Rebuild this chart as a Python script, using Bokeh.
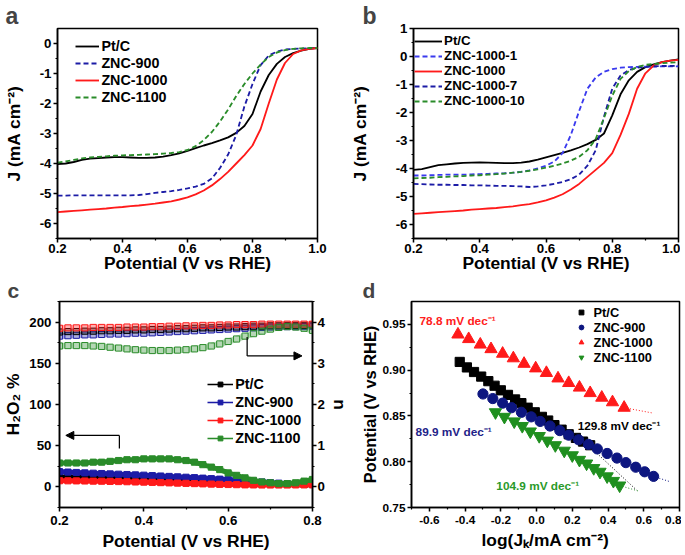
from bokeh.plotting import figure
from bokeh.layouts import column, row
from bokeh.models import (FixedTicker, PrintfTickFormatter, Range1d, LinearAxis,
                          Legend, LegendItem, Label, Arrow, NormalHead, Title)
from bokeh.embed import file_html
from bokeh.resources import INLINE

FONT = "Liberation Sans"
S = 1.0225  # scale for fonts / marks


def px(v):
    return int(round(S * v))


def fs(v):
    return "%.1fpx" % (S * v)


# ---------------- data: panels a & b (LSV) ----------------
potential_ab = [0.200, 0.225, 0.250, 0.275, 0.300, 0.325, 0.350, 0.375, 0.400, 0.425, 0.450,
                0.475, 0.500, 0.525, 0.550, 0.575, 0.600, 0.625, 0.650, 0.675, 0.700, 0.725,
                0.750, 0.775, 0.800, 0.825, 0.850, 0.875, 0.900, 0.925, 0.950, 0.975, 1.000]

a_ptc = [-4.02, -4.00, -3.95, -3.88, -3.84, -3.82, -3.80, -3.79, -3.79, -3.80, -3.81, -3.81,
         -3.80, -3.77, -3.72, -3.66, -3.58, -3.49, -3.40, -3.32, -3.23, -3.13, -2.98, -2.75,
         -2.35, -1.60, -1.05, -0.68, -0.45, -0.32, -0.24, -0.18, -0.15]
a_znc900 = [-5.07, -5.07, -5.06, -5.06, -5.06, -5.06, -5.06, -5.06, -5.06, -5.06, -5.05, -5.02,
            -4.98, -4.95, -4.92, -4.88, -4.83, -4.77, -4.68, -4.50, -4.15, -3.70, -3.05, -2.10,
            -1.35, -0.72, -0.40, -0.27, -0.20, -0.18, -0.17, -0.16, -0.15]
a_znc1000 = [-5.62, -5.60, -5.58, -5.56, -5.54, -5.52, -5.50, -5.47, -5.45, -5.42, -5.40, -5.37,
             -5.34, -5.30, -5.26, -5.20, -5.13, -5.03, -4.90, -4.73, -4.52, -4.28, -4.00, -3.72,
             -3.40, -2.85, -2.00, -1.20, -0.65, -0.35, -0.23, -0.18, -0.15]
a_znc1100 = [-3.97, -3.93, -3.88, -3.83, -3.80, -3.78, -3.76, -3.74, -3.73, -3.72, -3.71, -3.70,
             -3.69, -3.67, -3.65, -3.62, -3.55, -3.42, -3.22, -2.95, -2.60, -2.20, -1.75, -1.35,
             -1.00, -0.70, -0.45, -0.30, -0.22, -0.18, -0.16, -0.15, -0.15]

b_ptc = [-4.05, -4.02, -3.95, -3.88, -3.85, -3.82, -3.80, -3.79, -3.78, -3.79, -3.80, -3.81,
         -3.81, -3.79, -3.75, -3.68, -3.60, -3.52, -3.44, -3.35, -3.25, -3.13, -2.98, -2.75,
         -2.10, -1.35, -0.85, -0.55, -0.38, -0.28, -0.20, -0.15, -0.10]
b_znc1000_1 = [-4.25, -4.25, -4.24, -4.23, -4.22, -4.22, -4.22, -4.21, -4.20, -4.19, -4.18, -4.17,
               -4.15, -4.12, -4.07, -4.00, -3.90, -3.75, -3.45, -2.80, -1.95, -1.15, -0.75, -0.55,
               -0.45, -0.40, -0.38, -0.37, -0.36, -0.36, -0.35, -0.35, -0.35]
b_znc1000 = [-5.62, -5.60, -5.58, -5.56, -5.54, -5.52, -5.50, -5.47, -5.45, -5.43, -5.41, -5.38,
             -5.35, -5.31, -5.27, -5.21, -5.14, -5.04, -4.92, -4.75, -4.55, -4.30, -4.05, -3.80,
             -3.45, -2.80, -2.05, -1.15, -0.60, -0.32, -0.20, -0.15, -0.12]
b_znc1000_7 = [-4.55, -4.56, -4.57, -4.58, -4.58, -4.59, -4.59, -4.60, -4.60, -4.61, -4.62, -4.62,
               -4.63, -4.64, -4.66, -4.64, -4.60, -4.55, -4.48, -4.38, -4.22, -3.90, -3.35, -2.15,
               -1.15, -0.68, -0.48, -0.40, -0.37, -0.35, -0.34, -0.34, -0.33]
b_znc1000_10 = [-4.35, -4.34, -4.33, -4.31, -4.30, -4.28, -4.27, -4.25, -4.24, -4.22, -4.20, -4.18,
                -4.15, -4.12, -4.08, -4.03, -3.97, -3.90, -3.82, -3.72, -3.58, -3.35, -2.95, -2.20,
                -1.40, -0.80, -0.52, -0.38, -0.30, -0.27, -0.24, -0.22, -0.20]

# ---------------- data: panel c (RRDE) ----------------
potential_c = [0.20, 0.22, 0.24, 0.26, 0.28, 0.30, 0.32, 0.34, 0.36, 0.38, 0.40, 0.42, 0.44, 0.46,
               0.48, 0.50, 0.52, 0.54, 0.56, 0.58, 0.60, 0.62, 0.64, 0.66, 0.68, 0.70, 0.72, 0.74,
               0.76, 0.78, 0.80]
n_ptc = [3.76, 3.77, 3.77, 3.78, 3.78, 3.79, 3.79, 3.80, 3.80, 3.81, 3.81, 3.82, 3.82, 3.83, 3.84,
         3.84, 3.85, 3.86, 3.86, 3.87, 3.88, 3.88, 3.89, 3.90, 3.90, 3.91, 3.91, 3.92, 3.92, 3.92, 3.93]
n_znc900 = [3.66, 3.67, 3.68, 3.69, 3.69, 3.70, 3.71, 3.71, 3.72, 3.73, 3.73, 3.74, 3.75, 3.76, 3.77,
            3.78, 3.79, 3.80, 3.81, 3.82, 3.83, 3.84, 3.85, 3.86, 3.87, 3.88, 3.88, 3.89, 3.89, 3.89, 3.90]
n_znc1000 = [3.85, 3.86, 3.86, 3.86, 3.87, 3.87, 3.87, 3.87, 3.88, 3.88, 3.88, 3.89, 3.89, 3.90, 3.90,
             3.91, 3.91, 3.92, 3.92, 3.93, 3.93, 3.94, 3.94, 3.94, 3.95, 3.95, 3.95, 3.95, 3.95, 3.95, 3.95]
n_znc1100 = [3.42, 3.43, 3.43, 3.43, 3.42, 3.41, 3.39, 3.37, 3.35, 3.33, 3.32, 3.31, 3.31, 3.31, 3.32,
             3.33, 3.35, 3.38, 3.42, 3.47, 3.53, 3.59, 3.66, 3.72, 3.78, 3.83, 3.87, 3.89, 3.88, 3.85, 3.80]
h2o2_ptc = [12.0, 11.8, 11.6, 11.4, 11.2, 11.0, 10.8, 10.6, 10.4, 10.2, 10.0, 9.7, 9.4, 9.1, 8.8,
            8.4, 8.0, 7.6, 7.2, 6.8, 6.3, 5.8, 5.3, 4.8, 4.3, 3.9, 3.5, 3.2, 3.0, 2.9, 2.8]
h2o2_znc900 = [18.5, 18.0, 17.5, 17.0, 16.6, 16.2, 15.8, 15.4, 15.0, 14.6, 14.2, 13.7, 13.2, 12.7, 12.2,
               11.7, 11.2, 10.6, 10.0, 9.4, 8.8, 8.2, 7.5, 6.8, 6.0, 5.2, 4.5, 3.9, 3.5, 3.2, 3.0]
h2o2_znc1000 = [7.5, 7.4, 7.3, 7.2, 7.0, 6.9, 6.7, 6.5, 6.3, 6.0, 5.8, 5.5, 5.2, 4.9, 4.6,
                4.3, 4.0, 3.7, 3.4, 3.1, 2.9, 2.7, 2.5, 2.4, 2.3, 2.3, 2.3, 2.3, 2.4, 2.5, 2.6]
h2o2_znc1100 = [29, 29, 29, 29, 30, 30, 31, 32, 33, 33, 34, 34, 34, 34, 33,
                32, 30, 27, 24, 21, 17, 14, 11, 8, 6, 5, 4, 4, 5, 7, 9]
# arrow guides (x in V, y in H2O2 %)
arrow_left_x = [0.342, 0.342, 0.215]
arrow_left_y = [46.5, 62.5, 62.5]
arrow_right_x = [0.645, 0.645, 0.775]
arrow_right_y = [182.0, 159.0, 159.0]

# ---------------- data: panel d (Tafel) ----------------
tafel_ptc_x = [-0.43, -0.39, -0.35, -0.31, -0.27, -0.235, -0.20, -0.16, -0.12, -0.085, -0.05,
               -0.01, 0.03, 0.065, 0.10, 0.14, 0.18, 0.22, 0.26, 0.30]
tafel_ptc_y = [0.909, 0.903, 0.898, 0.893, 0.888, 0.883, 0.878, 0.873, 0.868, 0.864, 0.859,
               0.854, 0.849, 0.845, 0.840, 0.835, 0.830, 0.826, 0.822, 0.818]
tafel_900_x = [-0.30, -0.245, -0.19, -0.14, -0.085, -0.03, 0.02, 0.075, 0.13, 0.18, 0.235, 0.29,
               0.34, 0.395, 0.45, 0.50, 0.555, 0.605, 0.655]
tafel_900_y = [0.874, 0.869, 0.864, 0.859, 0.854, 0.849, 0.844, 0.839, 0.834, 0.829, 0.824, 0.819,
               0.814, 0.809, 0.804, 0.799, 0.794, 0.789, 0.784]
tafel_1000_x = [-0.44, -0.38, -0.315, -0.255, -0.19, -0.13, -0.07, -0.005, 0.055, 0.12, 0.18, 0.24,
                0.30, 0.365, 0.425, 0.49]
tafel_1000_y = [0.939, 0.934, 0.928, 0.923, 0.918, 0.913, 0.907, 0.902, 0.897, 0.891, 0.886, 0.881,
                0.875, 0.870, 0.865, 0.859]
tafel_1100_x = [-0.23, -0.18, -0.125, -0.08, -0.035, 0.015, 0.06, 0.105, 0.155, 0.20, 0.24, 0.28,
                0.32, 0.355, 0.395, 0.43, 0.465]
tafel_1100_y = [0.854, 0.849, 0.844, 0.839, 0.833, 0.828, 0.823, 0.818, 0.812, 0.807, 0.802, 0.798,
                0.793, 0.789, 0.784, 0.779, 0.774]
fit_ptc_x, fit_ptc_y = [0.30, 0.56], [0.816, 0.769]
fit_900_x, fit_900_y = [0.655, 0.75], [0.784, 0.778]
fit_1000_x, fit_1000_y = [0.49, 0.655], [0.859, 0.853]
fit_1100_x, fit_1100_y = [0.465, 0.57], [0.774, 0.768]

slopes = ["78.8 mV dec\u207b\u00b9", "129.8 mV dec\u207b\u00b9", "89.9 mV dec\u207b\u00b9", "104.9 mV dec\u207b\u00b9"]

BLACK = "#000000"
BLUE = "#1c1ca6"
LBLUE = "#3a3aee"
NAVY = "#0d1680"
RED = "#ff1a1a"
GREEN = "#2a8c2a"
DGREEN = "#1f8f1f"


def base_fig(width, height, xr, yr, left, right, top, bottom):
    p = figure(width=width, height=height, x_range=Range1d(*xr), y_range=Range1d(*yr),
               output_backend="svg", toolbar_location=None,
               min_border_left=left, min_border_right=right,
               min_border_top=top, min_border_bottom=bottom)
    p.xgrid.visible = False
    p.ygrid.visible = False
    p.outline_line_color = "black"
    p.outline_line_width = 1.5 * S
    p.outline_line_alpha = 1.0
    p.background_fill_color = "white"
    p.border_fill_color = "white"
    return p


def style_axis(ax, tick_px=13, label_px=17, label_standoff=5, tick_standoff=2):
    ax.axis_line_width = 1.5 * S
    ax.axis_line_color = "black"
    ax.major_tick_line_width = 1.5 * S
    ax.minor_tick_line_width = 1.2 * S
    ax.major_tick_line_color = "black"
    ax.minor_tick_line_color = "black"
    ax.major_tick_in = 0
    ax.major_tick_out = px(4)
    ax.minor_tick_in = 0
    ax.minor_tick_out = px(2)
    ax.major_label_text_font = FONT
    ax.major_label_text_font_style = "bold"
    ax.major_label_text_font_size = fs(tick_px)
    ax.major_label_text_color = "black"
    ax.major_label_standoff = tick_standoff
    ax.axis_label_text_font = FONT
    ax.axis_label_text_font_style = "bold"
    ax.axis_label_text_font_size = fs(label_px)
    ax.axis_label_text_color = "black"
    ax.axis_label_standoff = label_standoff


def make_legend(items, loc, font_px, glyph_w, label_h, standoff, spacing):
    lg = Legend(items=items, location=(S * loc[0], S * loc[1]))
    lg.background_fill_alpha = 0
    lg.border_line_alpha = 0
    lg.padding = 0
    lg.margin = 0
    lg.spacing = spacing
    lg.label_text_font = FONT
    lg.label_text_font_style = "bold"
    lg.label_text_font_size = fs(font_px)
    lg.label_text_color = "black"
    lg.glyph_width = px(glyph_w)
    lg.glyph_height = px(12)
    lg.label_height = px(label_h)
    lg.label_standoff = px(standoff)
    return lg


def letter_title(p, t, offset, size="23px"):
    p.add_layout(Title(text=t, align="left", offset=offset, standoff=0,
                       text_font=FONT, text_font_style="bold", text_font_size=size), "above")


LW = 1.8 * S

# ================= panel a =================
pa = base_fig(345, 276, (0.2, 1.0), (-6.5, 0.5), 52, 28, 22, 38)
ra1 = pa.line(potential_ab, a_ptc, line_color=BLACK, line_width=LW)
ra2 = pa.line(potential_ab, a_znc900, line_color=BLUE, line_width=LW, line_dash="5 3")
ra3 = pa.line(potential_ab, a_znc1000, line_color=RED, line_width=LW)
ra4 = pa.line(potential_ab, a_znc1100, line_color=GREEN, line_width=LW, line_dash="5 3")
pa.xaxis.ticker = FixedTicker(ticks=[0.2, 0.4, 0.6, 0.8, 1.0], minor_ticks=[0.3, 0.5, 0.7, 0.9])
pa.yaxis.ticker = FixedTicker(ticks=[-6, -5, -4, -3, -2, -1, 0],
                              minor_ticks=[-6.5, -5.5, -4.5, -3.5, -2.5, -1.5, -0.5])
pa.xaxis.formatter = PrintfTickFormatter(format="%.1f")
pa.yaxis.formatter = PrintfTickFormatter(format="%d")
pa.xaxis.axis_label = "Potential (V vs RHE)"
pa.yaxis.axis_label = "J (mA cm\u207b\u00b2)"
style_axis(pa.xaxis[0], label_standoff=-3, tick_standoff=1)
style_axis(pa.yaxis[0], label_standoff=13, tick_standoff=2)
pa.add_layout(make_legend([LegendItem(label="Pt/C", renderers=[ra1]),
                           LegendItem(label="ZNC-900", renderers=[ra2]),
                           LegendItem(label="ZNC-1000", renderers=[ra3]),
                           LegendItem(label="ZNC-1100", renderers=[ra4])],
                          (18, 130), 14, 23, 17, 2, -2))
letter_title(pa, "a", -52)

# ================= panel b =================
pb = base_fig(335, 276, (0.2, 1.0), (-6.5, 1.0), 68, 2, 22, 38)
rb1 = pb.line(potential_ab, b_ptc, line_color=BLACK, line_width=LW)
rb2 = pb.line(potential_ab, b_znc1000_1, line_color=LBLUE, line_width=LW, line_dash="5 3")
rb3 = pb.line(potential_ab, b_znc1000, line_color=RED, line_width=LW)
rb4 = pb.line(potential_ab, b_znc1000_7, line_color=BLUE, line_width=LW, line_dash="5 3")
rb5 = pb.line(potential_ab, b_znc1000_10, line_color=GREEN, line_width=LW, line_dash="5 3")
pb.xaxis.ticker = FixedTicker(ticks=[0.2, 0.4, 0.6, 0.8, 1.0], minor_ticks=[0.3, 0.5, 0.7, 0.9])
pb.yaxis.ticker = FixedTicker(ticks=[-6, -5, -4, -3, -2, -1, 0, 1],
                              minor_ticks=[-6.5, -5.5, -4.5, -3.5, -2.5, -1.5, -0.5, 0.5])
pb.xaxis.formatter = PrintfTickFormatter(format="%.1f")
pb.yaxis.formatter = PrintfTickFormatter(format="%d")
pb.xaxis.axis_label = "Potential (V vs RHE)"
pb.yaxis.axis_label = "J (mA cm\u207b\u00b2)"
style_axis(pb.xaxis[0], label_standoff=-3, tick_standoff=1)
style_axis(pb.yaxis[0], label_standoff=23, tick_standoff=2)
pb.add_layout(make_legend([LegendItem(label="Pt/C", renderers=[rb1]),
                           LegendItem(label="ZNC-1000-1", renderers=[rb2]),
                           LegendItem(label="ZNC-1000", renderers=[rb3]),
                           LegendItem(label="ZNC-1000-7", renderers=[rb4]),
                           LegendItem(label="ZNC-1000-10", renderers=[rb5])],
                          (1, 127), 13, 27, 14, 2, -3))
letter_title(pb, "b", -51)

# ================= panel c =================
pc = base_fig(352, 278, (0.2, 0.8), (-25, 225), 52, 35, 20, 47)
pc.extra_y_ranges = {"n": Range1d(-0.5, 4.5)}
series_c = [(n_znc900, h2o2_znc900, BLUE), (n_ptc, h2o2_ptc, BLACK),
            (n_znc1000, h2o2_znc1000, RED), (n_znc1100, h2o2_znc1100, GREEN)]
for nvals, hvals, col in series_c:
    pc.line(potential_c, nvals, y_range_name="n", line_color=col, line_width=6 * S, line_alpha=0.35)
    pc.scatter(potential_c, nvals, y_range_name="n", marker="square", size=6 * S,
               line_color=col, line_width=1, fill_alpha=0)
for nvals, hvals, col in [series_c[1], series_c[0], series_c[2], series_c[3]]:
    pc.line(potential_c, hvals, line_color=col, line_width=5 * S)
    pc.scatter(potential_c, hvals, marker="square", size=6 * S, line_color=col, fill_color=col)
# arrows
pc.line(arrow_left_x[:2], arrow_left_y[:2], line_color="black", line_width=1.2 * S)
pc.add_layout(Arrow(end=NormalHead(size=px(8), fill_color="black", line_color="black"),
                    x_start=arrow_left_x[1], y_start=arrow_left_y[1],
                    x_end=arrow_left_x[2], y_end=arrow_left_y[2], line_width=1.2 * S))
pc.line(arrow_right_x[:2], arrow_right_y[:2], line_color="black", line_width=1.2 * S)
pc.add_layout(Arrow(end=NormalHead(size=px(8), fill_color="black", line_color="black"),
                    x_start=arrow_right_x[1], y_start=arrow_right_y[1],
                    x_end=arrow_right_x[2], y_end=arrow_right_y[2], line_width=1.2 * S))
# legend-only renderers (placed outside the visible range)
leg_items_c = []
for lab, col in [("Pt/C", BLACK), ("ZNC-900", BLUE), ("ZNC-1000", RED), ("ZNC-1100", GREEN)]:
    l1 = pc.line(x=[-5, -4], y=[-1000, -1000], line_color=col, line_width=1.5 * S)
    l2 = pc.scatter(x=[-5], y=[-1000], marker="square", size=5 * S, line_color=col, fill_color=col)
    leg_items_c.append(LegendItem(label=lab, renderers=[l1, l2]))
pc.add_layout(make_legend(leg_items_c, (145, 59), 14, 25, 18, 2, -1))
pc.xaxis.ticker = FixedTicker(ticks=[0.2, 0.4, 0.6, 0.8], minor_ticks=[0.3, 0.5, 0.7])
pc.yaxis.ticker = FixedTicker(ticks=[0, 50, 100, 150, 200], minor_ticks=[-25, 25, 75, 125, 175, 225])
pc.xaxis.formatter = PrintfTickFormatter(format="%.1f")
pc.yaxis.formatter = PrintfTickFormatter(format="%d")
pc.xaxis.axis_label = "Potential (V vs RHE)"
pc.yaxis.axis_label = "H\u2082O\u2082 %"
style_axis(pc.xaxis[0], label_standoff=3, tick_standoff=4)
style_axis(pc.yaxis[0], label_standoff=3, tick_standoff=4)
n_axis = LinearAxis(y_range_name="n", axis_label="n",
                    ticker=FixedTicker(ticks=[0, 1, 2, 3, 4], minor_ticks=[-0.5, 0.5, 1.5, 2.5, 3.5, 4.5]),
                    formatter=PrintfTickFormatter(format="%d"))
style_axis(n_axis, label_standoff=2, tick_standoff=1)
pc.add_layout(n_axis, "right")
letter_title(pc, "c", -52, "21px")

# ================= panel d =================
pd_ = base_fig(329, 278, (-0.7, 0.8), (0.75, 0.975), 59, 2, 20, 47)
pd_.line(fit_ptc_x, fit_ptc_y, line_color=BLACK, line_width=1, line_dash="1 2")
pd_.line(fit_900_x, fit_900_y, line_color=NAVY, line_width=1, line_dash="1 2")
pd_.line(fit_1000_x, fit_1000_y, line_color=RED, line_width=1, line_dash="1 2")
pd_.line(fit_1100_x, fit_1100_y, line_color=GREEN, line_width=1, line_dash="1 2")
pd_.scatter(tafel_ptc_x, tafel_ptc_y, marker="square", size=9 * S, color=BLACK)
pd_.scatter(tafel_900_x, tafel_900_y, marker="circle", size=10 * S, color=NAVY)
pd_.scatter(tafel_1000_x, tafel_1000_y, marker="triangle", size=12 * S, color=RED)
pd_.scatter(tafel_1100_x, tafel_1100_y, marker="inverted_triangle", size=12 * S, color=DGREEN)
leg_items_d = []
for lab, mk, sz, col in [("Pt/C", "square", 7, BLACK), ("ZNC-900", "circle", 8, NAVY),
                         ("ZNC-1000", "triangle", 9, RED), ("ZNC-1100", "inverted_triangle", 9, DGREEN)]:
    r = pd_.scatter(x=[-5], y=[-5], marker=mk, size=sz * S, color=col)
    leg_items_d.append(LegendItem(label=lab, renderers=[r]))
pd_.add_layout(make_legend(leg_items_d, (159, 139), 12.5, 14, 15, 6, -2))
for txt, x, y, col in [(slopes[0], -0.655, 0.954, "#ff2020"), (slopes[1], 0.23, 0.839, BLACK),
                       (slopes[2], -0.677, 0.832, "#222288"), (slopes[3], -0.225, 0.773, "#2a9a2a")]:
    pd_.add_layout(Label(x=x, y=y, text=txt, text_font=FONT, text_font_style="bold",
                         text_font_size=fs(11.5), text_color=col, text_baseline="middle"))
pd_.xaxis.ticker = FixedTicker(ticks=[-0.6, -0.4, -0.2, 0.0, 0.2, 0.4, 0.6, 0.8],
                               minor_ticks=[-0.7, -0.5, -0.3, -0.1, 0.1, 0.3, 0.5, 0.7])
pd_.yaxis.ticker = FixedTicker(ticks=[0.75, 0.80, 0.85, 0.90, 0.95],
                               minor_ticks=[0.775, 0.825, 0.875, 0.925])
pd_.xaxis.formatter = PrintfTickFormatter(format="%.1f")
pd_.yaxis.formatter = PrintfTickFormatter(format="%.2f")
pd_.xaxis.axis_label = "log(J\u2096/mA cm\u207b\u00b2)"
pd_.yaxis.axis_label = "Potential (V vs RHE)"
style_axis(pd_.xaxis[0], tick_px=11.5, label_standoff=3, tick_standoff=4)
style_axis(pd_.yaxis[0], tick_px=11.5, label_px=16, label_standoff=1, tick_standoff=2)
letter_title(pd_, "d", -49, "21px")

layout = column(row(pa, pb), row(pc, pd_))
open("out.html", "w").write(file_html(layout, INLINE))
